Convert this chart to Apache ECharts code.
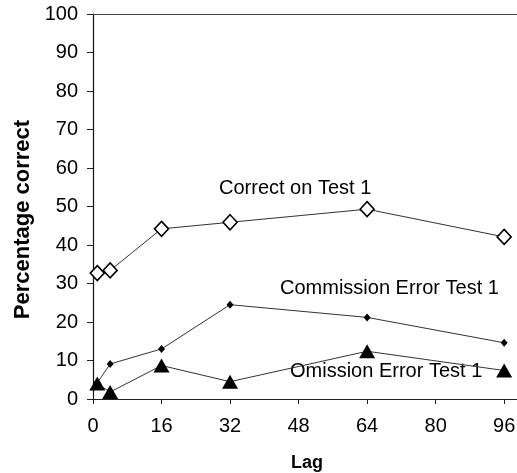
<!DOCTYPE html>
<html>
<head>
<meta charset="utf-8">
<script src="https://cdn.jsdelivr.net/npm/echarts@6/dist/echarts.min.js"></script>
<style>
html,body{margin:0;padding:0;background:#fff;}
#chart{width:517px;height:473px;}
</style>
</head>
<body>
<div id="chart"></div>
<script>
const lags = [1, 4, 16, 32, 64, 96];
const correctTest1 = [32.7, 33.4, 44.2, 45.9, 49.3, 42.1];
const commissionTest1 = [4.2, 9.1, 13.0, 24.5, 21.2, 14.6];
const omissionTest1 = [4.0, 1.8, 8.7, 4.5, 12.4, 7.4];
const xTicks = [0, 16, 32, 48, 64, 80, 96];
const seriesNames = ['Correct on Test 1', 'Commission Error Test 1', 'Omission Error Test 1'];

const pairs = arr => lags.map((x, i) => [x, arr[i]]);
const FONT = '"Liberation Sans", Arial, sans-serif';

const chart = echarts.init(document.getElementById('chart'));
chart.setOption({
  animation: false,
  backgroundColor: '#fff',
  grid: { left: 93, right: 0, top: 14, bottom: 74, containLabel: false, outerBoundsMode: 'none' },
  xAxis: [{
    type: 'value', min: 0, max: 99, interval: 16,
    name: 'Lag', nameLocation: 'middle', nameGap: 55,
    nameTextStyle: { fontFamily: FONT, fontSize: 18, fontWeight: 'bold', color: '#000', padding: [0, 0, 0, 4] },
    axisLine: { show: true, lineStyle: { color: '#222', width: 1 } },
    axisTick: { show: true, length: 5, lineStyle: { color: '#222' }, customValues: xTicks },
    axisLabel: { fontFamily: FONT, fontSize: 20, color: '#000', margin: 17, customValues: xTicks },
    splitLine: { show: false }
  }, {
    type: 'value', position: 'top', min: 0, max: 99,
    axisLine: { show: true, onZero: false, lineStyle: { color: '#444', width: 1 } },
    axisTick: { show: false }, axisLabel: { show: false }, splitLine: { show: false }
  }],
  yAxis: {
    type: 'value', min: 0, max: 100, interval: 10,
    name: 'Percentage correct', nameLocation: 'middle', nameGap: 55,
    nameTextStyle: { fontFamily: FONT, fontSize: 22, fontWeight: 'bold', color: '#000', padding: [0, 26, 0, 0] },
    axisLine: { show: true, lineStyle: { color: '#111', width: 1.2 } },
    axisTick: { show: true, length: 6, lineStyle: { color: '#222' } },
    axisLabel: { fontFamily: FONT, fontSize: 20, color: '#000', margin: 15 },
    splitLine: { show: false }
  },
  series: [{
    name: seriesNames[0], type: 'line', data: pairs(correctTest1),
    symbol: 'diamond', symbolSize: [14, 15],
    lineStyle: { color: '#333', width: 1 },
    itemStyle: { color: '#fff', borderColor: '#000', borderWidth: 1.6 }
  }, {
    name: seriesNames[1], type: 'line', data: pairs(commissionTest1),
    symbol: 'diamond', symbolSize: [7, 8],
    lineStyle: { color: '#333', width: 1 },
    itemStyle: { color: '#000', borderColor: '#000', borderWidth: 0 }
  }, {
    name: seriesNames[2], type: 'line', data: pairs(omissionTest1),
    symbol: 'triangle', symbolSize: [16, 14],
    lineStyle: { color: '#333', width: 1 },
    itemStyle: { color: '#000', borderColor: '#000', borderWidth: 0 }
  }],
  graphic: [
    { type: 'text', left: 219, top: 178, style: { text: seriesNames[0], font: '20px ' + FONT, fill: '#000' } },
    { type: 'text', left: 280, top: 278, style: { text: seriesNames[1], font: '20px ' + FONT, fill: '#000' } },
    { type: 'text', left: 290, top: 361, style: { text: seriesNames[2], font: '20px ' + FONT, fill: '#000' } }
  ]
});
</script>
</body>
</html>
